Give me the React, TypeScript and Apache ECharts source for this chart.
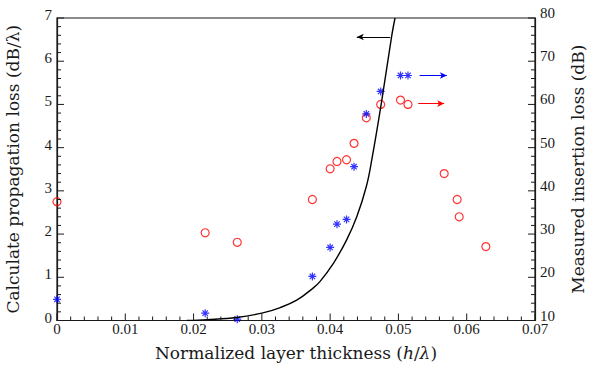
import React, { useEffect, useRef } from "react";
import * as echarts from "echarts";

// Calculated propagation loss curve (left axis, dB/λ)
const curveX = [0.019, 0.022, 0.0263, 0.030, 0.0327, 0.0351, 0.0375, 0.0385, 0.0405, 0.0424, 0.0439, 0.0453, 0.0461, 0.0475, 0.0490, 0.0495];
const curveY = [0.0, 0.02, 0.07, 0.17, 0.30, 0.47, 0.75, 0.90, 1.33, 1.86, 2.40, 3.10, 3.72, 5.03, 6.57, 7.0];

// Measured insertion loss, red circles (right axis, dB)
const circleX = [0, 0.0217, 0.0264, 0.0374, 0.0400, 0.0410, 0.0424, 0.0435, 0.0453, 0.0474, 0.0503, 0.0514, 0.0567, 0.0586, 0.0589, 0.0628];
const circleY = [37.5, 30.3, 28.1, 38.0, 45.1, 46.8, 47.2, 51.0, 56.9, 60.0, 61.0, 60.0, 44.0, 38.0, 34.0, 27.1];

// Measured insertion loss, blue stars (right axis, dB)
const starX = [0, 0.0217, 0.0264, 0.0374, 0.0400, 0.0410, 0.0424, 0.0435, 0.0453, 0.0474, 0.0503, 0.0514];
const starY = [14.9, 11.7, 10.3, 20.2, 26.9, 32.3, 33.4, 45.6, 57.8, 63.0, 66.7, 66.7];

// Annotation arrows [x1, y1, x2, y2]
const blackArrow = [0.0488, 6.56, 0.0439, 6.56]; // left axis
const blueArrow = [0.0531, 66.7, 0.0571, 66.7]; // right axis
const redArrow = [0.0529, 60.2, 0.0567, 60.2]; // right axis

// Axis scales: [min, max, interval, minor subdivisions]
const xScale = [0, 0.07, 0.01, 5];
const leftScale = [0, 7, 1, 5];
const rightScale = [10, 80, 10, 5];

const STAR =
  "path://M8.5,0H11.5V20H8.5Z M0,8.5H20V11.5H0Z M2.2,4.3L4.3,2.2L17.8,15.7L15.7,17.8Z M15.7,2.2L17.8,4.3L4.3,17.8L2.2,15.7Z";

const TICK_FONT = "Liberation Serif";
const NAME_FONT = "DejaVu Serif";
const AX = "#1a1a1a";
const MAJOR_LEN = 7;
const MINOR_LEN = 4;

function tickValues(s: number[]): number[][] {
  const [min, max, interval, sub] = s;
  const n = Math.round((max - min) / interval) * sub;
  const out: number[][] = [];
  for (let i = 0; i <= n; i++) {
    const v = Math.round((min + (i * interval) / sub) * 1e9) / 1e9;
    out.push([v, i % sub === 0 ? 1 : 0]);
  }
  return out;
}

function arrowLine(a: number[], color: string) {
  return {
    silent: true,
    symbol: ["none", "arrow"],
    symbolSize: [5, 7],
    label: { show: false },
    emphasis: { disabled: true },
    lineStyle: { color, width: 1, type: "solid" },
    data: [[{ coord: [a[0], a[1]] }, { coord: [a[2], a[3]] }]],
  };
}

// dir: [dx, dy] direction of the tick from the axis into the plot
function tickSeries(data: number[][], yAxisIndex: number, dir: number[]) {
  return {
    type: "custom",
    yAxisIndex,
    silent: true,
    clip: false,
    z: 5,
    data,
    renderItem: (_p: any, api: any) => {
      const pt = api.coord([api.value(0), api.value(1)]);
      const len = api.value(2) ? MAJOR_LEN : MINOR_LEN;
      return {
        type: "line",
        shape: { x1: pt[0], y1: pt[1], x2: pt[0] + dir[0] * len, y2: pt[1] + dir[1] * len },
        style: { stroke: AX, lineWidth: 1 },
      };
    },
  };
}

export default function App() {
  const ref = useRef<HTMLDivElement>(null);
  useEffect(() => {
    if (!ref.current) return;
    const chart = echarts.init(ref.current, undefined, { renderer: "svg" });
    const tickLabel = { fontFamily: TICK_FONT, fontSize: 15, color: AX };
    const nameStyle = {
      fontFamily: NAME_FONT,
      fontSize: 17,
      color: AX,
      rich: { i: { fontFamily: NAME_FONT, fontSize: 17, fontStyle: "italic", color: AX } },
    };
    const axisBase = {
      axisLine: { show: true, onZero: false, lineStyle: { color: AX, width: 1.2 } },
      axisTick: { show: false },
      minorTick: { show: false },
      splitLine: { show: false },
    };
    const xTickData = tickValues(xScale).map(([v, m]) => [v, leftScale[0], m]);
    const leftTickData = tickValues(leftScale).map(([v, m]) => [xScale[0], v, m]);
    const rightTickData = tickValues(rightScale).map(([v, m]) => [xScale[1], v, m]);

    chart.setOption({
      animation: false,
      backgroundColor: "#fff",
      grid: {
        left: 57,
        right: 54,
        top: 18,
        bottom: 44.5,
        outerBoundsMode: "none",
        containLabel: false,
        show: true,
        borderColor: AX,
        borderWidth: 1.2,
        backgroundColor: "rgba(0,0,0,0)",
      },
      xAxis: {
        type: "value",
        min: xScale[0],
        max: xScale[1],
        interval: xScale[2],
        ...axisBase,
        axisLabel: {
          ...tickLabel,
          margin: 1,
          formatter: (v: number) => (v === 0 ? "0" : v.toFixed(2)),
        },
        name: "Normalized layer thickness ({i|h}/{i|λ})",
        nameLocation: "middle",
        nameGap: 24,
        nameTextStyle: nameStyle,
      },
      yAxis: [
        {
          type: "value",
          position: "left",
          min: leftScale[0],
          max: leftScale[1],
          interval: leftScale[2],
          ...axisBase,
          axisLabel: { ...tickLabel, margin: 5, verticalAlign: "bottom", lineHeight: 6 },
          name: "Calculate propagation loss (dB/λ)",
          nameLocation: "middle",
          nameGap: 36,
          nameRotate: 90,
          nameTextStyle: nameStyle,
        },
        {
          type: "value",
          position: "right",
          min: rightScale[0],
          max: rightScale[1],
          interval: rightScale[2],
          ...axisBase,
          axisLabel: { ...tickLabel, margin: 5, verticalAlign: "bottom", lineHeight: 10 },
          name: "Measured insertion loss (dB)",
          nameLocation: "middle",
          nameGap: 34,
          nameRotate: 90,
          nameTextStyle: nameStyle,
        },
      ],
      series: [
        {
          type: "line",
          name: "calc",
          yAxisIndex: 0,
          data: curveX.map((x, i) => [x, curveY[i]]),
          smooth: 0.4,
          showSymbol: false,
          symbol: "none",
          lineStyle: { color: "#000", width: 1.4 },
          silent: true,
          markLine: arrowLine(blackArrow, "#000"),
        },
        {
          type: "scatter",
          name: "circles",
          yAxisIndex: 1,
          data: circleX.map((x, i) => [x, circleY[i]]),
          symbol: "circle",
          symbolSize: 8,
          itemStyle: { color: "rgba(0,0,0,0)", borderColor: "#ff0000", borderWidth: 1.2 },
          silent: true,
          clip: false,
          markLine: arrowLine(redArrow, "#ff0000"),
        },
        {
          type: "scatter",
          name: "stars",
          yAxisIndex: 1,
          data: starX.map((x, i) => [x, starY[i]]),
          symbol: STAR,
          symbolSize: 8,
          itemStyle: { color: "#0000ff" },
          silent: true,
          clip: false,
          markLine: arrowLine(blueArrow, "#0000ff"),
        },
        tickSeries(xTickData, 0, [0, -1]),
        tickSeries(leftTickData, 0, [1, 0]),
        tickSeries(rightTickData, 1, [-1, 0]),
      ],
    });
    return () => chart.dispose();
  }, []);
  return (
    <div
      ref={ref}
      style={{ position: "fixed", left: 0, top: 0, width: 589, height: 365, background: "#fff" }}
    />
  );
}
